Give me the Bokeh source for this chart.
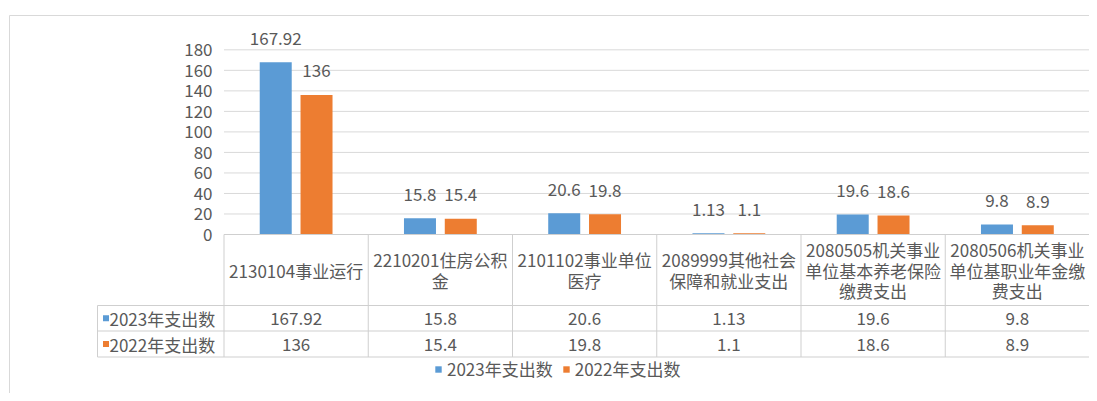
import numpy as np
from bokeh.plotting import figure
from bokeh.models import Range1d, Legend, LegendItem
from bokeh.embed import file_html
from bokeh.resources import INLINE
from bokeh.core.properties import value

# ---------------- data ----------------
categories = [
    "2130104事业运行",
    "2210201住房公积金",
    "2101102事业单位医疗",
    "2089999其他社会保障和就业支出",
    "2080505机关事业单位基本养老保险缴费支出",
    "2080506机关事业单位基职业年金缴费支出",
]
series_names = ["2023年支出数", "2022年支出数"]
spend_2023 = [167.92, 15.8, 20.6, 1.13, 19.6, 9.8]
spend_2022 = [136, 15.4, 19.8, 1.1, 18.6, 8.9]
y_ticks = [0, 20, 40, 60, 80, 100, 120, 140, 160, 180]

# ---------------- style / layout ----------------
colors = ["#5b9bd5", "#ed7d31"]
TEXT = "#595959"
GRID = "#d9d9d9"
TABLE_LINE = "#cfcfcf"
FONT = value("Noto Sans CJK SC")
FS = "17px"

FIG_W, FIG_H = 1089, 393
OFF_PAGE = 0
CAT_LEFT = 223.5      # page px of first category boundary
CAT_W = 144.25        # page px per category
Y0_PX = 234.0         # page px of value 0
PX_PER_UNIT = 1.026   # page px per value unit


def xd(px):
    return (px - CAT_LEFT) / CAT_W


def yd(py):
    return (Y0_PX - py) / PX_PER_UNIT


def wrap_label(s, max_em=8.5):
    lines, cur, w = [], "", 0.0
    for ch in s:
        cw = 1.0 if ord(ch) > 0x2E80 else 0.55
        if w + cw > max_em and cur:
            lines.append(cur)
            cur, w = "", 0.0
        cur += ch
        w += cw
    lines.append(cur)
    return "\n".join(lines)


def fmt(v):
    return f"{v:g}"


n = len(categories)
centers = np.arange(n) + 0.5
BAR_W = 32 / CAT_W
BAR_OFF = 20.4 / CAT_W

p = figure(
    width=FIG_W, height=FIG_H,
    x_range=Range1d(xd(OFF_PAGE), xd(OFF_PAGE + FIG_W)),
    y_range=Range1d(yd(OFF_PAGE + FIG_H), yd(OFF_PAGE)),
    output_backend="svg", toolbar_location=None,
    min_border=0, x_axis_location=None, y_axis_location=None,
    outline_line_color=None,
)
for g in p.grid:
    g.visible = False

# chart border (left & top)
p.segment(x0=[xd(9), xd(9)], y0=[yd(15), yd(15)], x1=[xd(9), xd(1100)], y1=[yd(405), yd(15)],
          line_color=GRID, line_width=1)

# gridlines
gt = y_ticks[1:]
p.segment(x0=[0] * len(gt), x1=[n] * len(gt), y0=gt, y1=gt, line_color=GRID, line_width=1)

# y tick labels
p.text(x=[xd(212)] * len(y_ticks), y=y_ticks, text=[str(t) for t in y_ticks],
       text_align="right", text_baseline="middle", text_font=FONT,
       text_font_size=FS, text_color=TEXT)

# bars
r1 = p.vbar(x=centers - BAR_OFF, top=spend_2023, bottom=0, width=BAR_W,
            fill_color=colors[0], line_color=None)
r2 = p.vbar(x=centers + BAR_OFF, top=spend_2022, bottom=0, width=BAR_W,
            fill_color=colors[1], line_color=None)

# data labels
for xs, vals in ((centers - BAR_OFF, spend_2023), (centers + BAR_OFF, spend_2022)):
    p.text(x=xs, y=vals, text=[fmt(v) for v in vals], y_offset=-24,
           text_align="center", text_baseline="middle", text_font=FONT,
           text_font_size=FS, text_color=TEXT)

# data table
rows_px = [234, 305, 330.5, 356.5]
left_px = 97
hx0 = [0] + [xd(left_px)] * 3
p.segment(x0=hx0, x1=[n] * 4, y0=[yd(r) for r in rows_px], y1=[yd(r) for r in rows_px],
          line_color=TABLE_LINE, line_width=1)
vx = [xd(left_px)] + list(range(n + 1))
vy0 = [yd(rows_px[1])] + [yd(rows_px[0])] * (n + 1)
p.segment(x0=vx, x1=vx, y0=vy0, y1=[yd(rows_px[3])] * len(vx),
          line_color=TABLE_LINE, line_width=1)

# header (category) cells
p.text(x=centers, y=[yd((rows_px[0] + rows_px[1]) / 2)] * n,
       text=[wrap_label(c) for c in categories],
       text_align="center", text_baseline="middle", text_font=FONT,
       text_font_size=FS, text_color=TEXT, text_line_height=0.82)

# value rows
for k, vals in enumerate((spend_2023, spend_2022)):
    yc = yd((rows_px[k + 1] + rows_px[k + 2]) / 2)
    p.text(x=centers, y=[yc] * n, text=[fmt(v) for v in vals],
           text_align="center", text_baseline="middle", text_font=FONT,
           text_font_size=FS, text_color=TEXT)
    p.scatter(x=[xd(105.5)], y=[yc], marker="square", size=6,
              fill_color=colors[k], line_color=None)
    p.text(x=[xd(109)], y=[yc], text=[series_names[k]],
           text_align="left", text_baseline="middle", text_font=FONT,
           text_font_size=FS, text_color=TEXT)

# legend
legend = Legend(
    items=[LegendItem(label=series_names[0], renderers=[r1]),
           LegendItem(label=series_names[1], renderers=[r2])],
    orientation="horizontal", location=(434 - OFF_PAGE, OFF_PAGE + FIG_H - 381),
    border_line_color=None, background_fill_alpha=0,
    glyph_width=8, glyph_height=8, label_height=16,
    label_standoff=5, spacing=9, padding=0, margin=0,
    label_text_font="Noto Sans CJK SC", label_text_font_size=FS,
    label_text_color=TEXT,
)
p.add_layout(legend)

open("out.html", "w").write(file_html(p, INLINE))
